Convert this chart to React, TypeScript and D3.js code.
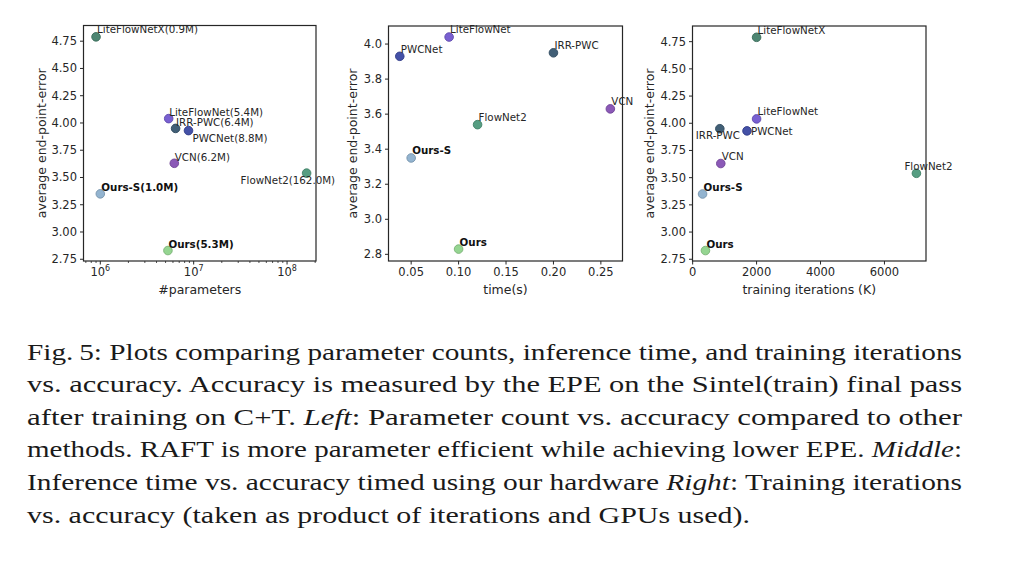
import React from "react";
import * as d3 from "d3";

// ---------------- data ----------------
const methodNames = ["LiteFlowNetX", "LiteFlowNet", "IRR-PWC", "PWCNet", "VCN", "FlowNet2", "Ours-S", "Ours"];
const epeValues = [4.79, 4.04, 3.95, 3.93, 3.63, 3.54, 3.35, 2.83];
const paramCounts = [0.9e6, 5.4e6, 6.4e6, 8.8e6, 6.2e6, 162.0e6, 1.0e6, 5.3e6];
const paramLabels = ["0.9M", "5.4M", "6.4M", "8.8M", "6.2M", "162.0M", "1.0M", "5.3M"];
const inferenceTimes = [NaN, 0.09, 0.2, 0.038, 0.26, 0.12, 0.05, 0.1];
const trainingIters = [2000, 2000, 850, 1700, 880, 7000, 310, 400];
const methodColors = ["#45806a", "#7257cf", "#37566f", "#3a48a2", "#8550b3", "#4d997b", "#8db0ce", "#8fd38b"];
const boldMethods = ["Ours-S", "Ours"];

const epeTicksA = [2.75, 3.0, 3.25, 3.5, 3.75, 4.0, 4.25, 4.5, 4.75];
const epeTicksB = [2.8, 3.0, 3.2, 3.4, 3.6, 3.8, 4.0];
const paramTickExps = [6, 7, 8];
const timeTicks = [0.05, 0.1, 0.15, 0.2, 0.25];
const iterTicks = [0, 2000, 4000, 6000];

const captionLines: { text: string; italic?: boolean }[][] = [
  [{ text: "Fig.\u20095: Plots comparing parameter counts, inference time, and training iterations" }],
  [{ text: "vs. accuracy. Accuracy is measured by the EPE on the Sintel(train) final pass" }],
  [
    { text: "after training on C+T. " },
    { text: "Left", italic: true },
    { text: ": Parameter count vs. accuracy compared to other" },
  ],
  [
    { text: "methods. RAFT is more parameter efficient while achieving lower EPE. " },
    { text: "Middle", italic: true },
    { text: ":" },
  ],
  [
    { text: "Inference time vs. accuracy timed using our hardware " },
    { text: "Right", italic: true },
    { text: ": Training iterations" },
  ],
  [{ text: "vs. accuracy (taken as product of iterations and GPUs used)." }],
];

// ---------------- styling ----------------
const INK = "#262626";
const SANS = "'DejaVu Sans', sans-serif";

type Pt = { x: number; y: number; label: string; color: string; bold: boolean; dx: number; dy: number; anchor?: string };

type PanelProps = {
  box: { x0: number; x1: number; y0: number; y1: number };
  xScale: any;
  yScale: any;
  points: Pt[];
  xTicks: { v: number; label: React.ReactNode }[];
  minorX?: number[];
  yTicks: number[];
  yFmt: (v: number) => string;
  ylabelOffset: number;
  xlabel: string;
};

function Panel(p: PanelProps) {
  const { box, xScale, yScale } = p;
  return (
    <g>
      {p.yTicks.map((t) => (
        <g key={"y" + t}>
          <line x1={box.x0 - 3.5} x2={box.x0} y1={yScale(t)} y2={yScale(t)} stroke={INK} strokeWidth={1} />
          <text
            x={box.x0 - 6.5}
            y={yScale(t)}
            textAnchor="end"
            dominantBaseline="central"
            fontFamily={SANS}
            fontSize={11.5}
            fill={INK}
          >
            {p.yFmt(t)}
          </text>
        </g>
      ))}
      {p.xTicks.map((t, i) => (
        <g key={"x" + i}>
          <line x1={xScale(t.v)} x2={xScale(t.v)} y1={box.y1} y2={box.y1 + 3.5} stroke={INK} strokeWidth={1} />
          <text
            x={xScale(t.v)}
            y={box.y1 + 14.5}
            textAnchor="middle"
            fontFamily={SANS}
            fontSize={11.5}
            fill={INK}
          >
            {t.label}
          </text>
        </g>
      ))}
      {(p.minorX || []).map((v, i) => (
        <line key={"m" + i} x1={xScale(v)} x2={xScale(v)} y1={box.y1} y2={box.y1 + 2} stroke={INK} strokeWidth={0.8} />
      ))}
      {p.points.map((pt, i) => (
        <circle
          key={"c" + i}
          cx={xScale(pt.x)}
          cy={yScale(pt.y)}
          r={4.3}
          fill={pt.color}
          stroke={d3.color(pt.color)!.darker(0.5).formatHex()}
          strokeWidth={0.9}
          fillOpacity={0.95}
        />
      ))}
      {p.points.map((pt, i) => (
        <text
          key={"t" + i}
          x={xScale(pt.x) + pt.dx}
          y={yScale(pt.y) + pt.dy}
          textAnchor={pt.anchor || "start"}
          fontFamily={SANS}
          fontSize={10.3}
          fontWeight={pt.bold ? "bold" : "normal"}
          fill={pt.bold ? "#111" : INK}
        >
          {pt.label}
        </text>
      ))}
      <rect
        x={box.x0}
        y={box.y0}
        width={box.x1 - box.x0}
        height={box.y1 - box.y0}
        fill="none"
        stroke={INK}
        strokeWidth={1.2}
      />
      <text
        transform={`translate(${box.x0 - p.ylabelOffset},${(box.y0 + box.y1) / 2}) rotate(-90)`}
        textAnchor="middle"
        dominantBaseline="central"
        fontFamily={SANS}
        fontSize={12.5}
        fill={INK}
      >
        average end-point-error
      </text>
      <text
        x={(box.x0 + box.x1) / 2}
        y={box.y1 + 28}
        textAnchor="middle"
        dominantBaseline="central"
        fontFamily={SANS}
        fontSize={12.5}
        fill={INK}
      >
        {p.xlabel}
      </text>
    </g>
  );
}

export default function App() {
  // ---- panel 1: parameters ----
  const box1 = { x0: 83.5, x1: 316, y0: 25.5, y1: 261 };
  const x1 = d3.scaleLog().domain([Math.pow(10, 5.82), Math.pow(10, 8.31)]).range([box1.x0, box1.x1]);
  const yA1 = d3.scaleLinear().domain([2.734, 4.894]).range([box1.y1, box1.y0]);
  const off1: Record<string, [number, number, string?]> = {
    LiteFlowNetX: [1, -3.5],
    LiteFlowNet: [0.5, -3],
    "IRR-PWC": [0.5, -2.5],
    PWCNet: [4, 11],
    VCN: [0.5, -2.5],
    FlowNet2: [-66, 10.5],
    "Ours-S": [1, -2.5],
    Ours: [0.5, -2.5],
  };
  const pts1: Pt[] = methodNames.map((m, i) => ({
    x: paramCounts[i],
    y: epeValues[i],
    label: `${m}(${paramLabels[i]})`,
    color: methodColors[i],
    bold: boldMethods.includes(m),
    dx: off1[m][0],
    dy: off1[m][1],
  }));
  const minor1: number[] = [];
  for (let e = 5; e <= 8; e++)
    for (let k = 2; k <= 9; k++) {
      const v = k * Math.pow(10, e);
      if (v >= x1.domain()[0] && v <= x1.domain()[1]) minor1.push(v);
    }
  const xt1 = paramTickExps.map((e) => ({
    v: Math.pow(10, e),
    label: (
      <>
        10
        <tspan fontSize={8} dy={-5}>
          {e}
        </tspan>
      </>
    ),
  }));

  // ---- panel 2: time ----
  const box2 = { x0: 388.5, x1: 622.5, y0: 26, y1: 261 };
  const x2 = d3.scaleLinear().domain([0.0261, 0.2728]).range([box2.x0, box2.x1]);
  const yB = d3.scaleLinear().domain([2.762, 4.103]).range([box2.y1, box2.y0]);
  const pts2: Pt[] = methodNames
    .map((m, i) => ({
      x: inferenceTimes[i],
      y: epeValues[i],
      label: m,
      color: methodColors[i],
      bold: boldMethods.includes(m),
      dx: 1,
      dy: m === "LiteFlowNet" ? -4 : -3.5,
    }))
    .filter((d) => !isNaN(d.x));

  // ---- panel 3: iterations ----
  const box3 = { x0: 692.5, x1: 926, y0: 26, y1: 261 };
  const x3 = d3.scaleLinear().domain([-5, 7300]).range([box3.x0, box3.x1]);
  const yA3 = d3.scaleLinear().domain([2.734, 4.894]).range([box3.y1, box3.y0]);
  const off3: Record<string, [number, number, string?]> = {
    LiteFlowNetX: [1, -3.5],
    LiteFlowNet: [1, -3.5],
    "IRR-PWC": [-2, 10, "middle"],
    PWCNet: [4, 4],
    VCN: [1, -3.5],
    FlowNet2: [-12, -3],
    "Ours-S": [1, -3],
    Ours: [1, -3],
  };
  const pts3: Pt[] = methodNames.map((m, i) => ({
    x: trainingIters[i],
    y: epeValues[i],
    label: m,
    color: methodColors[i],
    bold: boldMethods.includes(m),
    dx: off3[m][0],
    dy: off3[m][1],
    anchor: off3[m][2],
  }));

  const capX = 27;
  const capW = 935;
  const capBase = 359.5;
  const capStep = 32.6;

  return (
    <svg
      width={1015}
      height={578}
      style={{ position: "absolute", left: 0, top: 0, background: "#fff" }}
      xmlns="http://www.w3.org/2000/svg"
    >
      <rect x={0} y={0} width={1015} height={578} fill="#fff" />
      <Panel
        box={box1}
        xScale={x1}
        yScale={yA1}
        points={pts1}
        xTicks={xt1}
        minorX={minor1}
        yTicks={epeTicksA}
        yFmt={(v) => v.toFixed(2)}
        ylabelOffset={42}
        xlabel="#parameters"
      />
      <Panel
        box={box2}
        xScale={x2}
        yScale={yB}
        points={pts2}
        xTicks={timeTicks.map((v) => ({ v, label: v.toFixed(2) }))}
        yTicks={epeTicksB}
        yFmt={(v) => v.toFixed(1)}
        ylabelOffset={36.5}
        xlabel="time(s)"
      />
      <Panel
        box={box3}
        xScale={x3}
        yScale={yA3}
        points={pts3}
        xTicks={iterTicks.map((v) => ({ v, label: String(v) }))}
        yTicks={epeTicksA}
        yFmt={(v) => v.toFixed(2)}
        ylabelOffset={43.5}
        xlabel="training iterations (K)"
      />
      {captionLines.map((segs, i) => (
        <text
          key={"cap" + i}
          x={capX}
          y={capBase + i * capStep}
          fontFamily="'Liberation Serif', 'Times New Roman', serif"
          fontSize={24}
          fill="#1a1a1a"
          textLength={i === captionLines.length - 1 ? 723 : capW}
          lengthAdjust="spacingAndGlyphs"
        >
          {segs.map((s, j) => (
            <tspan key={j} fontStyle={s.italic ? "italic" : "normal"}>
              {s.text}
            </tspan>
          ))}
        </text>
      ))}
    </svg>
  );
}
